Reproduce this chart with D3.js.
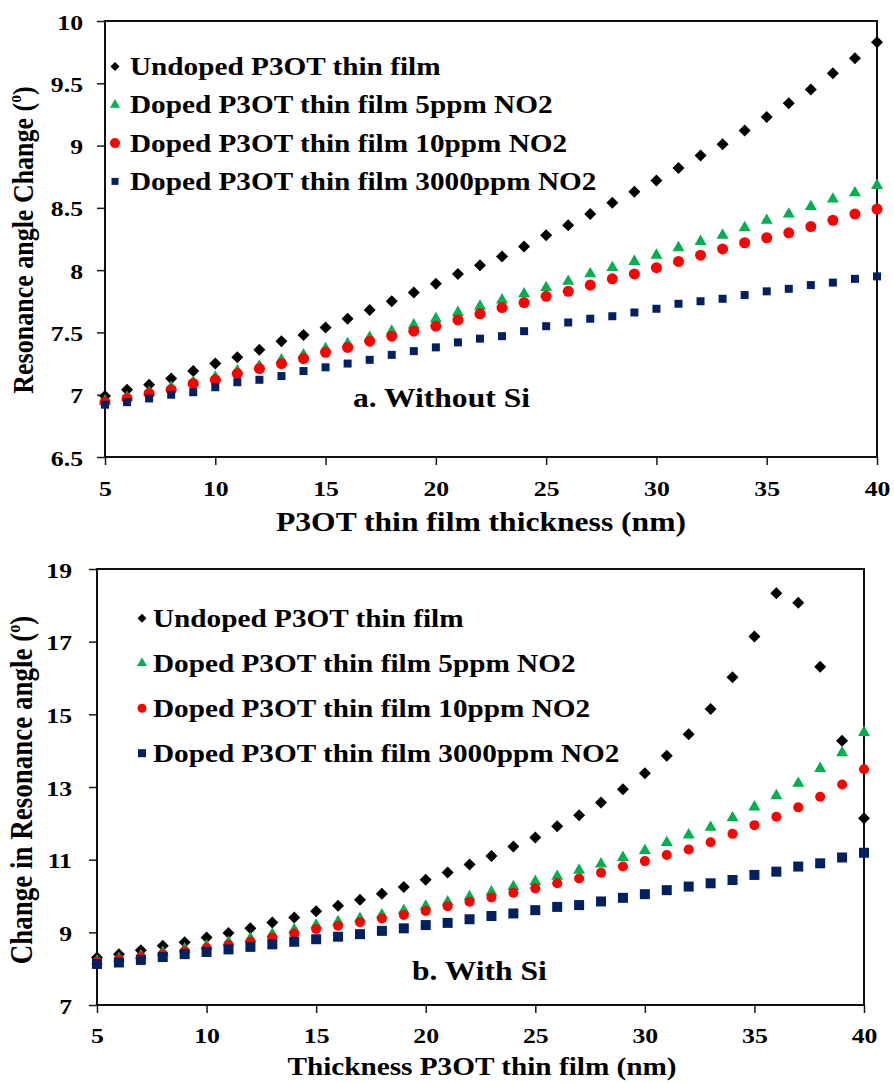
<!DOCTYPE html>
<html>
<head>
<meta charset="utf-8">
<script src="https://cdn.jsdelivr.net/npm/d3@7/dist/d3.min.js"></script>
<style>
  body { margin: 0; background: #fff; }
  svg { display: block; }
  text { font-family: "Liberation Serif", "Times New Roman", serif; font-weight: bold; fill: #000; }
</style>
</head>
<body>
<svg id="chart" width="894" height="1083"></svg>
<script>
// Film thickness (nm) shared by both panels
const thickness = [5,6,7,8,9,10,11,12,13,14,15,16,17,18,19,20,21,22,23,24,25,26,27,28,29,30,31,32,33,34,35,36,37,38,39,40];

const seriesNames = [
  "Undoped P3OT thin film",
  "Doped P3OT thin film 5ppm NO2",
  "Doped P3OT thin film 10ppm NO2",
  "Doped P3OT thin film 3000ppm NO2"
];

// Panel a: without Si
const noSiUndoped = [6.99,7.04,7.08,7.13,7.19,7.25,7.30,7.36,7.43,7.48,7.54,7.61,7.68,7.75,7.82,7.89,7.97,8.04,8.11,8.19,8.28,8.36,8.45,8.54,8.63,8.72,8.82,8.92,9.01,9.12,9.23,9.34,9.45,9.58,9.70,9.83];
const noSi5ppm    = [6.95,6.98,7.02,7.06,7.10,7.14,7.19,7.23,7.28,7.32,7.37,7.41,7.46,7.51,7.56,7.61,7.66,7.71,7.76,7.81,7.86,7.91,7.97,8.02,8.07,8.12,8.18,8.23,8.28,8.34,8.40,8.45,8.51,8.57,8.62,8.68];
const noSi10ppm   = [6.94,6.97,7.01,7.04,7.09,7.12,7.17,7.21,7.25,7.29,7.34,7.38,7.43,7.47,7.51,7.55,7.60,7.65,7.70,7.74,7.79,7.83,7.88,7.93,7.97,8.02,8.07,8.12,8.17,8.22,8.26,8.30,8.35,8.40,8.45,8.49];
const noSi3000ppm = [6.92,6.94,6.97,7.00,7.02,7.06,7.10,7.12,7.15,7.19,7.22,7.25,7.28,7.32,7.35,7.38,7.42,7.45,7.47,7.51,7.55,7.58,7.61,7.63,7.66,7.69,7.73,7.75,7.77,7.80,7.83,7.85,7.88,7.90,7.93,7.95];

// Panel b: with Si
const siUndoped = [8.31,8.40,8.51,8.63,8.73,8.86,8.98,9.11,9.27,9.41,9.58,9.73,9.90,10.06,10.25,10.45,10.65,10.87,11.10,11.36,11.61,11.92,12.22,12.57,12.94,13.38,13.86,14.45,15.15,16.02,17.14,18.33,18.07,16.31,14.27,12.14];
const si5ppm    = [8.21,8.28,8.36,8.45,8.54,8.63,8.73,8.83,8.95,9.07,9.20,9.29,9.38,9.48,9.60,9.72,9.84,9.98,10.11,10.26,10.40,10.54,10.71,10.88,11.06,11.25,11.47,11.68,11.89,12.15,12.45,12.76,13.10,13.51,13.94,14.50];
const si10ppm   = [8.19,8.25,8.32,8.40,8.48,8.57,8.66,8.75,8.86,8.97,9.09,9.18,9.28,9.38,9.48,9.59,9.72,9.84,9.96,10.09,10.21,10.35,10.48,10.64,10.81,10.96,11.13,11.28,11.48,11.71,11.95,12.18,12.44,12.73,13.07,13.49];
const si3000ppm = [8.13,8.17,8.24,8.32,8.40,8.46,8.53,8.60,8.67,8.74,8.81,8.88,8.95,9.04,9.11,9.20,9.26,9.36,9.45,9.52,9.61,9.70,9.75,9.85,9.95,10.05,10.16,10.26,10.35,10.44,10.58,10.67,10.81,10.90,11.06,11.19];

// Axis ticks and their labels
const xTicks = [5,10,15,20,25,30,35,40];
const xTickLabels = ["5","10","15","20","25","30","35","40"];
const yTicksA = [6.5,7,7.5,8,8.5,9,9.5,10];
const yTickLabelsA = ["6.5","7","7.5","8","8.5","9","9.5","10"];
const yTicksB = [7,9,11,13,15,17,19];
const yTickLabelsB = ["7","9","11","13","15","17","19"];

const colors = ["#000000", "#00B050", "#FF0000", "#002060"];
const shapes = ["diamond", "triangle", "circle", "square"];

// Horizontal stretch applied to all lettering
const SX = 1.17;

function markerPath(shape, r) {
  const p = d3.path();
  if (shape === "diamond") {
    p.moveTo(0, -r); p.lineTo(r, 0); p.lineTo(0, r); p.lineTo(-r, 0); p.closePath();
  } else if (shape === "triangle") {
    const h = r * Math.sqrt(3);
    p.moveTo(0, -2 * h / 3); p.lineTo(r, h / 3); p.lineTo(-r, h / 3); p.closePath();
  } else if (shape === "circle") {
    p.arc(0, 0, r, 0, 2 * Math.PI); p.closePath();
  } else {
    p.rect(-r, -r, 2 * r, 2 * r);
  }
  return p.toString();
}

function stretchedText(parent, x, y, str, size, anchor, rotate) {
  const g = parent.append("g")
    .attr("transform", `translate(${x},${y}) scale(${SX},1)` + (rotate ? " rotate(-90)" : ""));
  const t = g.append("text")
    .attr("font-size", size)
    .attr("text-anchor", anchor || "start");
  return t;
}

const svg = d3.select("#chart");

function drawPanel(cfg) {
  const x = d3.scaleLinear().domain([5, 40]).range([cfg.left, cfg.right]);
  const y = d3.scaleLinear().domain(cfg.yDomain).range([cfg.bottom, cfg.top]);
  const g = svg.append("g");

  // Axes (ticks only, the frame is drawn separately)
  const yAxis = d3.axisLeft(y).tickValues(cfg.yTicks).tickSize(8).tickSizeOuter(0)
    .tickFormat((d, i) => cfg.yTickLabels[i]);
  const ya = g.append("g").attr("transform", `translate(${cfg.left},0)`).call(yAxis);
  ya.select(".domain").remove();
  ya.selectAll("line").attr("stroke", "#1a1a1a").attr("stroke-width", 1.5);
  ya.selectAll("text")
    .attr("x", null).attr("dy", null)
    .attr("font-size", 22).attr("font-family", null).attr("text-anchor", "end")
    .attr("transform", `translate(${-cfg.yLabelGap},8) scale(${SX},1)`);
  ya.attr("font-family", null).attr("font-size", null);

  const xAxis = d3.axisBottom(x).tickValues(xTicks).tickSize(8).tickSizeOuter(0)
    .tickFormat((d, i) => xTickLabels[i]);
  const xa = g.append("g").attr("transform", `translate(0,${cfg.bottom})`).call(xAxis);
  xa.select(".domain").remove();
  xa.selectAll("line").attr("stroke", "#1a1a1a").attr("stroke-width", 1.5);
  xa.selectAll("text")
    .attr("y", null).attr("dy", null)
    .attr("font-size", 22).attr("text-anchor", "middle")
    .attr("transform", `translate(0,${cfg.xLabelDrop}) scale(${SX},1)`);
  xa.attr("font-family", null).attr("font-size", null);

  // Plot frame
  g.append("rect")
    .attr("x", cfg.left).attr("y", cfg.top)
    .attr("width", cfg.right - cfg.left).attr("height", cfg.bottom - cfg.top)
    .attr("fill", "none").attr("stroke", "#111").attr("stroke-width", 2);

  // Data markers
  cfg.series.forEach((vals, si) => {
    g.append("g").selectAll("path")
      .data(vals.map((v, i) => ({ t: thickness[i], v })))
      .join("path")
      .attr("d", markerPath(shapes[si], cfg.markerR[si]))
      .attr("fill", colors[si])
      .attr("transform", d => `translate(${x(d.t)},${y(d.v)})`);
  });

  // Legend
  seriesNames.forEach((name, si) => {
    const base = cfg.legend.y0 + si * cfg.legend.dy;
    g.append("path")
      .attr("d", markerPath(shapes[si], cfg.legendR[si]))
      .attr("fill", colors[si])
      .attr("transform", `translate(${cfg.legend.mx},${base - 8.5})`);
    stretchedText(g, cfg.legend.tx, base, null, 25).text(name);
  });

  // Panel caption
  stretchedText(g, cfg.caption.x, cfg.caption.y, null, 27).text(cfg.caption.text);

  // Axis titles
  stretchedText(g, cfg.xTitle.x, cfg.xTitle.y, null, cfg.xTitle.size, "middle").text(cfg.xTitle.text);
  const yt = stretchedText(g, cfg.yTitle.x, cfg.yTitle.y, null, cfg.yTitle.size, "middle", true);
  yt.append("tspan").text(cfg.yTitle.text + " (");
  yt.append("tspan").attr("font-size", cfg.yTitle.size * 0.6).attr("dy", -10).text("o");
  yt.append("tspan").attr("dy", 10).text(")");
}

drawPanel({
  left: 105, right: 877, top: 21, bottom: 457,
  yDomain: [6.5, 10], yTicks: yTicksA, yTickLabels: yTickLabelsA,
  yLabelGap: 22, xLabelDrop: 39,
  series: [noSiUndoped, noSi5ppm, noSi10ppm, noSi3000ppm],
  markerR: [6, 6, 5.5, 4],
  legendR: [4.5, 5, 5, 3.5],
  legend: { mx: 115, tx: 130, y0: 75, dy: 38.3 },
  caption: { x: 353, y: 407, text: "a. Without Si" },
  xTitle: { x: 481, y: 531, size: 27, text: "P3OT thin film thickness (nm)" },
  yTitle: { x: 33, y: 240, size: 26, text: "Resonance angle Change" }
});

drawPanel({
  left: 97, right: 864, top: 569, bottom: 1005,
  yDomain: [7, 19], yTicks: yTicksB, yTickLabels: yTickLabelsB,
  yLabelGap: 25, xLabelDrop: 38,
  series: [siUndoped, si5ppm, si10ppm, si3000ppm],
  markerR: [6, 6, 5, 5],
  legendR: [4.5, 5, 4.5, 4],
  legend: { mx: 142, tx: 153, y0: 626.7, dy: 45 },
  caption: { x: 412, y: 980, text: "b. With Si" },
  xTitle: { x: 482, y: 1075, size: 25, text: "Thickness P3OT thin film (nm)" },
  yTitle: { x: 32, y: 790, size: 27, text: "Change in Resonance angle" }
});
</script>
</body>
</html>
